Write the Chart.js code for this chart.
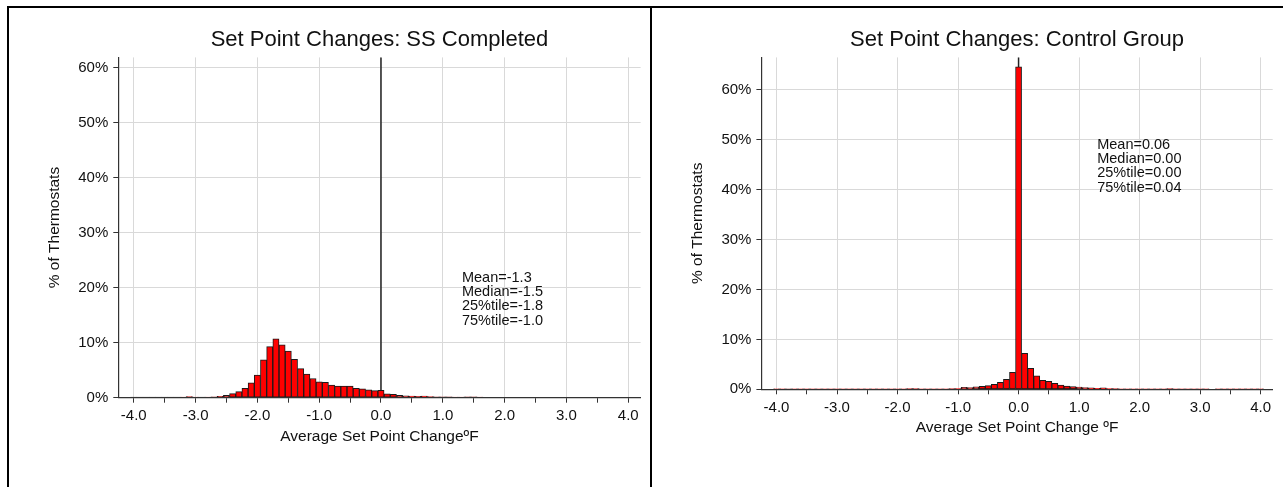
<!DOCTYPE html>
<html>
<head>
<meta charset="utf-8">
<script src="https://cdn.jsdelivr.net/npm/chart.js@4.4.1/dist/chart.umd.min.js"></script>
<style>
  html, body { margin: 0; padding: 0; background: #fff; }
  #page { position: relative; width: 1283px; height: 487px; overflow: hidden; }
  .line { position: absolute; background: #000; }
  canvas { position: absolute; }
</style>
</head>
<body>
<div id="page">
  <div class="line" style="left:7px;top:6px;width:1276px;height:2px"></div>
  <div class="line" style="left:7px;top:6px;width:2px;height:481px"></div>
  <div class="line" style="left:650px;top:6px;width:2px;height:481px"></div>
  <canvas id="ssChart" width="641" height="479" style="left:9px;top:8px"></canvas>
  <canvas id="ctrlChart" width="631" height="479" style="left:652px;top:8px"></canvas>
</div>
<script>
// bin centres (0.1 wide bins)
const xBins = [
  -4.0,-3.9,-3.8,-3.7,-3.6,-3.5,-3.4,-3.3,-3.2,-3.1,
  -3.0,-2.9,-2.8,-2.7,-2.6,-2.5,-2.4,-2.3,-2.2,-2.1,
  -2.0,-1.9,-1.8,-1.7,-1.6,-1.5,-1.4,-1.3,-1.2,-1.1,
  -1.0,-0.9,-0.8,-0.7,-0.6,-0.5,-0.4,-0.3,-0.2,-0.1,
   0.0, 0.1, 0.2, 0.3, 0.4, 0.5, 0.6, 0.7, 0.8, 0.9,
   1.0, 1.1, 1.2, 1.3, 1.4, 1.5, 1.6, 1.7, 1.8, 1.9,
   2.0, 2.1, 2.2, 2.3, 2.4, 2.5, 2.6, 2.7, 2.8, 2.9,
   3.0, 3.1, 3.2, 3.3, 3.4, 3.5, 3.6, 3.7, 3.8, 3.9,
   4.0
];

// % of thermostats, SS completed
const ssPct = [
  0.05,0.05,0.05,0.05,0.05,0.05,0.05,0.05,0.1,0.2,
  0.1,0.05,0.1,0.15,0.25,0.45,0.75,1.1,1.7,2.7,
  4.1,6.9,9.3,10.7,9.6,8.5,7.0,5.3,4.3,3.5,
  2.9,2.8,2.3,2.1,2.1,2.1,1.7,1.6,1.45,1.3,
  1.35,0.7,0.6,0.45,0.35,0.3,0.25,0.3,0.2,0.15,
  0.15,0.15,0.1,0.1,0.15,0.15,0.1,0,0,0,
  0,0,0,0,0,0,0,0,0,0,
  0,0,0,0,0,0,0,0,0,0,
  0
];

// % of thermostats, control group
const ctrlPct = [
  0.05,0.05,0.02,0.05,0.05,0.05,0.05,0.05,0.05,0.05,
  0.05,0.05,0.05,0.05,0.05,0.05,0.05,0.05,0.05,0.05,
  0.05,0.05,0.12,0.12,0.05,0.08,0.1,0.1,0.1,0.12,
  0.15,0.4,0.35,0.5,0.6,0.75,1.0,1.4,2.0,3.4,
  64.6,7.2,4.2,2.7,1.8,1.6,1.2,0.87,0.67,0.53,
  0.45,0.35,0.3,0.2,0.3,0.15,0.12,0.1,0.1,0.05,
  0.1,0.05,0.1,0.05,0.05,0.12,0.05,0.05,0.05,0.05,
  0.05,0.05,0,0.05,0.05,0.05,0.05,0.05,0.05,0.05,
  0.05
];

const xTicks = [-4,-3.5,-3,-2.5,-2,-1.5,-1,-0.5,0,0.5,1,1.5,2,2.5,3,3.5,4];
const xTickLabels = ['-4.0','','-3.0','','-2.0','','-1.0','','0.0','','1.0','','2.0','','3.0','','4.0'];
const yTicks = [0,10,20,30,40,50,60];
const yTickLabels = ['0%','10%','20%','30%','40%','50%','60%'];

const ssStats = ['Mean=-1.3','Median=-1.5','25%tile=-1.8','75%tile=-1.0'];
const ctrlStats = ['Mean=0.06','Median=0.00','25%tile=0.00','75%tile=0.04'];

Chart.defaults.font.family = '"Liberation Sans", Arial, Helvetica, sans-serif';
Chart.defaults.color = '#111';

// black reference line at x = 0, behind the bars
const zeroLine = {
  id: 'zeroLine',
  beforeDatasetsDraw(chart) {
    const {ctx, chartArea, scales} = chart;
    const x = scales.x.getPixelForValue(0);
    ctx.save();
    ctx.strokeStyle = '#222';
    ctx.lineWidth = 1.5;
    ctx.beginPath();
    ctx.moveTo(x, chartArea.top);
    ctx.lineTo(x, chartArea.bottom);
    ctx.stroke();
    ctx.restore();
  }
};

// stats text block, anchored in data coordinates
const statsText = {
  id: 'statsText',
  afterDatasetsDraw(chart, args, opts) {
    const {ctx, scales} = chart;
    const x = scales.x.getPixelForValue(opts.at[0]);
    const y = scales.y.getPixelForValue(opts.at[1]);
    ctx.save();
    ctx.font = '14.5px "Liberation Sans", Arial, sans-serif';
    ctx.fillStyle = '#111';
    ctx.textAlign = 'left';
    ctx.textBaseline = 'middle';
    opts.lines.forEach((t, i) => ctx.fillText(t, x, y + i * 14.3));
    ctx.restore();
  }
};

function makeChart(id, o) {
  return new Chart(document.getElementById(id), {
    type: 'bar',
    data: {
      datasets: [{
        data: xBins.map((x, i) => ({x: x, y: o.values[i]})),
        backgroundColor: '#ff0000',
        borderColor: '#1a1a1a',
        borderWidth: 1,
        borderSkipped: false,
        barPercentage: 1,
        categoryPercentage: 1
      }]
    },
    options: {
      responsive: false,
      animation: false,
      devicePixelRatio: 1,
      layout: { padding: { left: 0, right: o.padRight, top: 0, bottom: o.padBottom } },
      plugins: {
        legend: { display: false },
        tooltip: { enabled: false },
        title: {
          display: true,
          fullSize: false,
          text: o.title,
          color: '#111',
          font: { size: 22, weight: 'normal' },
          padding: { top: 19, bottom: 4 }
        },
        statsText: { lines: o.stats, at: o.statsAt }
      },
      scales: {
        x: {
          type: 'linear',
          offset: false,
          min: -4.25,
          max: 4.2,
          afterBuildTicks: s => { s.ticks = xTicks.map(v => ({value: v})); },
          afterFit: s => { s.height = 50; },
          grid: {
            offset: false,
            color: c => (c.tick && Number.isInteger(c.tick.value)) ? '#d9d9d9' : 'rgba(0,0,0,0)',
            tickColor: '#333',
            tickLength: 5,
            lineWidth: 1
          },
          border: { display: true, color: '#333', width: 1.2, z: 1 },
          ticks: {
            autoSkip: false,
            maxRotation: 0,
            padding: o.xTickPad,
            color: '#111',
            font: { size: 15 },
            callback: (v, i) => xTickLabels[i]
          },
          title: {
            display: true,
            text: o.xTitle,
            color: '#111',
            font: { size: 15.5 },
            padding: { top: 0, bottom: o.xTitlePad }
          }
        },
        y: {
          min: 0,
          max: o.yMax,
          afterBuildTicks: s => { s.ticks = yTicks.map(v => ({value: v})); },
          afterFit: s => { s.width = o.yWidth; },
          grid: { color: '#d9d9d9', tickColor: '#333', tickLength: 5, lineWidth: 1 },
          border: { display: true, color: '#333', width: 1.2, z: 1 },
          ticks: {
            padding: 5,
            color: '#111',
            font: { size: 15 },
            callback: (v, i) => yTickLabels[i]
          },
          title: {
            display: true,
            text: '% of Thermostats',
            color: '#111',
            font: { size: 15.5 },
            padding: { top: o.yTitlePad, bottom: 0 }
          }
        }
      }
    },
    plugins: [zeroLine, statsText]
  });
}

makeChart('ssChart', {
  values: ssPct,
  title: 'Set Point Changes: SS Completed',
  xTitle: 'Average Set Point Change\u00baF',
  stats: ssStats,
  statsAt: [1.31, 21.8],
  yMax: 61.9,
  yWidth: 109.3,
  padRight: 9.4,
  padBottom: 39.3,
  xTickPad: 4,
  xTitlePad: 1.4,
  yTitlePad: 36.4
});

makeChart('ctrlChart', {
  values: ctrlPct,
  title: 'Set Point Changes: Control Group',
  xTitle: 'Average Set Point Change \u00baF',
  stats: ctrlStats,
  statsAt: [1.3, 49.0],
  yMax: 66.5,
  yWidth: 109.4,
  padRight: 10.3,
  padBottom: 47.7,
  xTickPad: 5,
  xTitlePad: 2.3,
  yTitlePad: 36.9
});
</script>
</body>
</html>
